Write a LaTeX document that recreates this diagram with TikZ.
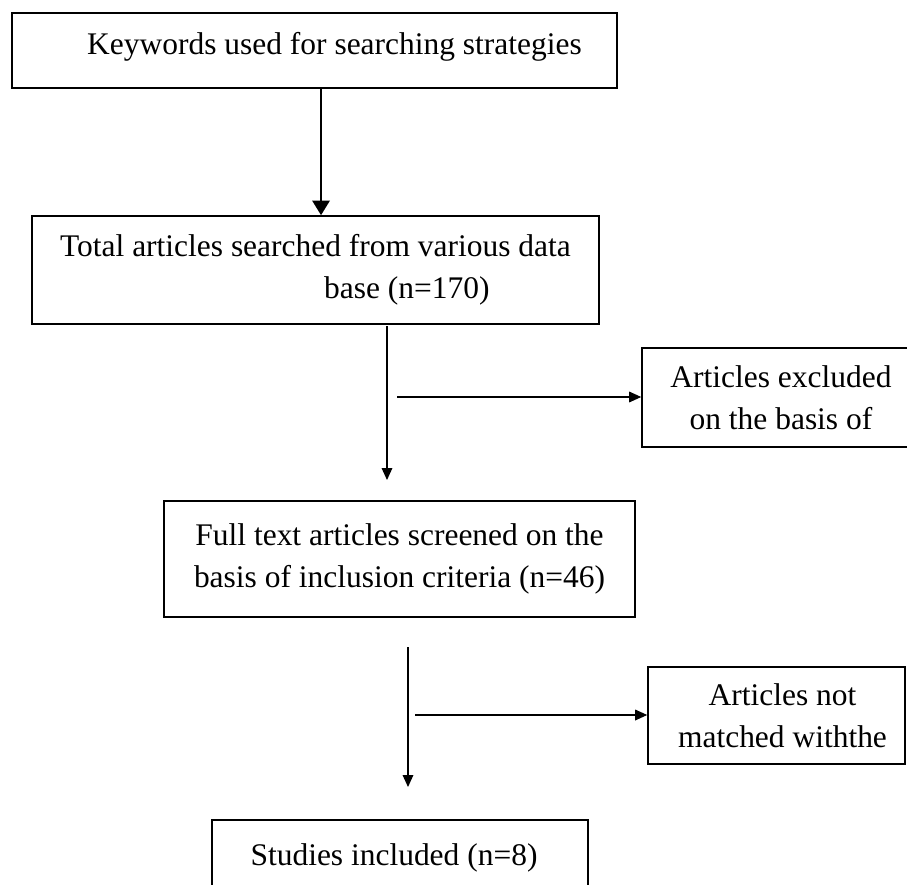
\documentclass[tikz,border=0pt]{standalone}
\usepackage{fontspec}
\setmainfont{Liberation Serif}
\usetikzlibrary{arrows.meta}

\begin{document}
\begin{tikzpicture}[x=0.75pt, y=-0.75pt,
  font=\fontsize{23.6}{31.5}\selectfont,
  caja/.style={draw, line width=1.2pt, inner sep=0pt, align=center},
  flecha/.style={-{Triangle[length=9pt, width=8pt]}, line width=0.9pt},
  flechagruesa/.style={-{Triangle[length=11pt, width=13pt]}, line width=1.8pt}]
  \clip (0,0) rectangle (907,885);
  \node[caja, minimum width=453.75pt, minimum height=56.25pt, text depth=11pt] (kw) at (314.5,50.5)
    {\hspace*{30pt}Keywords used for searching strategies};
  \node[caja, align=left, minimum width=425.25pt, minimum height=81pt] (total) at (315.5,270)
    {Total articles searched from various data\\\hspace*{198pt}base (n=170)};
  \node[caja, minimum width=208.5pt, minimum height=74.25pt] (excl) at (781,397.5)
    {Articles excluded\\on the basis of};
  \node[caja, minimum width=353.25pt, minimum height=87pt] (full) at (399.5,559)
    {Full text articles screened on the\\basis of inclusion criteria (n=46)};
  \node[caja, minimum width=192.75pt, minimum height=72.75pt] (nomatch) at (776.5,715.5)
    {\hspace*{9pt}Articles not\\\hspace*{9pt}matched withthe};
  \node[caja, minimum width=282pt, minimum height=56.25pt] (incl) at (400,857.5)
    {Studies included (n=8)\hspace*{9pt}};
  % flechas
  \draw[flechagruesa] ([xshift=4.9pt]kw.south) -- ([xshift=4.9pt]kw.south |- total.north);
  \coordinate (v1) at (387,326);
  \coordinate (p1) at (387,480);
  \coordinate (h1) at (397,397);
  \draw[flecha] (v1) -- (p1);
  \draw[flecha] (h1) -- (h1 -| excl.west);
  \coordinate (v2) at (408,647);
  \coordinate (p2) at (408,787);
  \coordinate (h2) at (415,715);
  \draw[flecha] (v2) -- (p2);
  \draw[flecha] (h2) -- (h2 -| nomatch.west);
\end{tikzpicture}
\end{document}
